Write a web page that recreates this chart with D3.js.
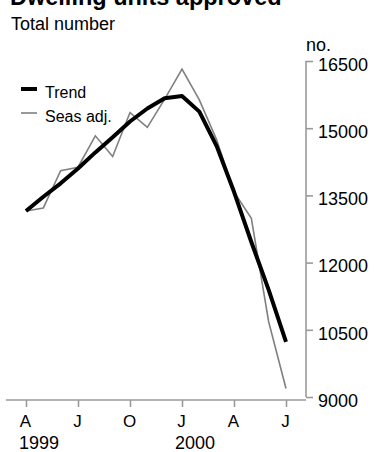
<!DOCTYPE html>
<html>
<head>
<meta charset="utf-8">
<script src="https://cdn.jsdelivr.net/npm/d3@7"></script>
<style>
  html, body { margin: 0; padding: 0; background: #fff; }
  svg { display: block; font-family: "Liberation Sans", Arial, sans-serif; }
</style>
</head>
<body>
<svg id="chart" width="377" height="452"></svg>
<script>
// ---- data ----
const months = ["1999-04","1999-05","1999-06","1999-07","1999-08","1999-09","1999-10","1999-11","1999-12",
                "2000-01","2000-02","2000-03","2000-04","2000-05","2000-06","2000-07"];
const trend   = [13150,13470,13770,14100,14460,14800,15150,15440,15670,15720,15370,14600,13580,12460,11390,10230];
const seasAdj = [13150,13220,14050,14130,14830,14370,15350,15020,15650,16320,15630,14740,13580,12990,10680,9190];
const xTickMonths = ["1999-04","1999-07","1999-10","2000-01","2000-04","2000-07"];
const xTickLabels = ["A","J","O","J","A","J"];
const yearMonths = ["1999-04","2000-01"];
const yearLabels = ["1999","2000"];
const yTicks = [9000,10500,12000,13500,15000,16500];
const titleText = "Dwelling units approved";
const subtitleText = "Total number";
const unitText = "no.";
const legendLabels = ["Trend","Seas adj."];

// ---- layout ----
const svg = d3.select("#chart");
const plotLeft = 6, plotRight = 306;
const x = d3.scalePoint().domain(months).range([26, 286]);
const y = d3.scaleLinear().domain([9000, 16500]).range([397, 61]);
const axisColor = "#9a9a9a";
const xAxisY = 400;

// title (clipped at top, as in reference)
svg.append("text").attr("x", 10).attr("y", 5)
  .attr("font-size", 23.5).attr("font-weight", "bold").attr("fill", "#000")
  .text(titleText);
svg.append("text").attr("x", 11).attr("y", 30)
  .attr("font-size", 18).attr("fill", "#000").text(subtitleText);
svg.append("text").attr("x", plotRight).attr("y", 51)
  .attr("font-size", 18).attr("fill", "#000").text(unitText);

// y axis (right)
const yAxisG = svg.append("g").attr("transform", `translate(${plotRight},0)`)
  .call(d3.axisRight(y).tickValues(yTicks).tickSize(7).tickPadding(5).tickFormat(d3.format("d")));
yAxisG.select(".domain").remove();
yAxisG.append("line").attr("x1", 0).attr("x2", 0)
  .attr("y1", y(16500)).attr("y2", y(9000))
  .attr("stroke", axisColor).attr("stroke-width", 1.6);
yAxisG.selectAll(".tick line").attr("stroke", axisColor).attr("stroke-width", 1.6);
yAxisG.selectAll(".tick text").attr("font-size", 18).attr("fill", "#000")
  .attr("font-family", "'Liberation Sans', Arial, sans-serif")
  .attr("dy", "0.52em");

// x axis (bottom)
const xAxisG = svg.append("g").attr("transform", `translate(0,${xAxisY})`)
  .call(d3.axisBottom(x).tickValues(xTickMonths).tickSize(7).tickPadding(8)
        .tickFormat((d, i) => xTickLabels[i]));
xAxisG.select(".domain").remove();
xAxisG.append("line").attr("x1", plotLeft).attr("x2", plotRight)
  .attr("y1", 0).attr("y2", 0).attr("stroke", axisColor).attr("stroke-width", 1.6);
xAxisG.selectAll(".tick line").attr("stroke", axisColor).attr("stroke-width", 1.6);
xAxisG.selectAll(".tick text").attr("font-size", 17).attr("fill", "#000")
  .attr("font-family", "'Liberation Sans', Arial, sans-serif")
  .attr("dx", -1);

// year labels
svg.selectAll(".year").data(yearLabels).enter().append("text")
  .attr("class", "year")
  .attr("x", (d, i) => x(yearMonths[i]) - 7)
  .attr("y", 449)
  .attr("font-size", 18).attr("fill", "#000")
  .text(d => d);

// lines
const line = d3.line().x((d, i) => x(months[i])).y(d => y(d));
svg.append("path").datum(seasAdj).attr("d", line)
  .attr("fill", "none").attr("stroke", "#808080").attr("stroke-width", 1.6)
  .attr("stroke-linejoin", "miter");
svg.append("path").datum(trend).attr("d", line)
  .attr("fill", "none").attr("stroke", "#000").attr("stroke-width", 4)
  .attr("stroke-linejoin", "round");

// legend
const legend = svg.append("g");
const legendStyles = [{c: "#000", w: 4}, {c: "#808080", w: 1.6}];
legendLabels.forEach((lab, i) => {
  const ly = 89 + i * 24;
  legend.append("line").attr("x1", 21).attr("x2", 37).attr("y1", ly).attr("y2", ly)
    .attr("stroke", legendStyles[i].c).attr("stroke-width", legendStyles[i].w);
  legend.append("text").attr("x", 45).attr("y", ly + 8.5)
    .attr("font-size", 16).attr("fill", "#000").text(lab);
});
</script>
</body>
</html>
